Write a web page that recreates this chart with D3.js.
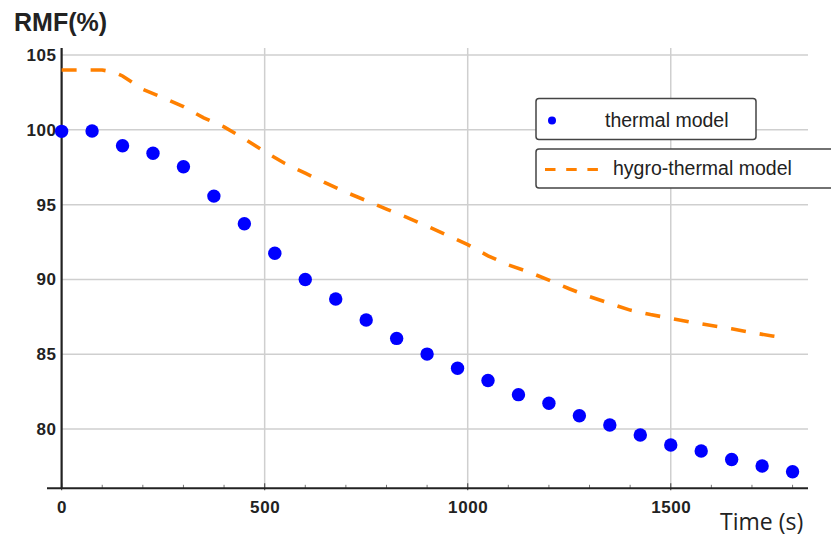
<!DOCTYPE html>
<html><head><meta charset="utf-8">
<script src="https://cdn.jsdelivr.net/npm/d3@7"></script>
<style>body{margin:0;background:#fff}svg{display:block}</style>
</head><body>
<svg id="c" width="831" height="540"></svg>
<script>
// ---- data ----
const thermalTime = [0,75,150,225,300,375,450,525,600,675,750,825,900,975,1050,1125,1200,1275,1350,1425,1500,1575,1650,1725,1800];
const thermalRMF  = [99.9,99.92,98.94,98.43,97.53,95.57,93.72,91.75,90.0,88.69,87.29,86.06,85.01,84.06,83.25,82.3,81.72,80.89,80.27,79.6,78.93,78.53,77.97,77.53,77.15];
const hygroTime = [0,100,130,150,200,250,300,350,400,450,500,550,600,650,700,750,800,850,900,950,1000,1050,1100,1150,1200,1250,1300,1350,1400,1450,1500,1550,1600,1650,1700,1750,1775];
const hygroRMF  = [104.0,104.0,103.85,103.6,102.7,102.15,101.55,100.8,100.2,99.4,98.55,97.75,97.1,96.45,95.83,95.27,94.7,94.15,93.56,92.95,92.33,91.58,90.97,90.5,89.95,89.38,88.85,88.4,87.95,87.65,87.4,87.15,86.92,86.7,86.45,86.22,86.12];
const xTicks = [0,500,1000,1500];
const xMinor = [100,200,300,400,600,700,800,900,1100,1200,1300,1400,1600,1700,1800];
const yTicks = [80,85,90,95,100,105];
const seriesNames = ["thermal model","hygro-thermal model"];

const svg = d3.select("#c");
const x = d3.scaleLinear().domain([-36,1838]).range([47,808]);
const y = d3.scaleLinear().domain([76.04,105.47]).range([488.3,48]);

// grid
svg.append("g").selectAll("line").data(yTicks).join("line")
  .attr("x1",x(0)).attr("x2",808).attr("y1",d=>y(d)).attr("y2",d=>y(d))
  .attr("stroke","#cfcfcf").attr("stroke-width",1.5);
svg.append("g").selectAll("line").data(xTicks.filter(d=>d>0)).join("line")
  .attr("x1",d=>x(d)).attr("x2",d=>x(d)).attr("y1",y(105.47)).attr("y2",y(76.04))
  .attr("stroke","#cfcfcf").attr("stroke-width",1.5);

// minor ticks
svg.append("g").selectAll("line").data(xMinor).join("line")
  .attr("x1",d=>x(d)).attr("x2",d=>x(d)).attr("y1",y(76.04)-3.5).attr("y2",y(76.04))
  .attr("stroke","#777").attr("stroke-width",1);
svg.append("g").selectAll("line").data(xTicks).join("line")
  .attr("x1",d=>x(d)).attr("x2",d=>x(d)).attr("y1",y(76.04)-5).attr("y2",y(76.04)+2)
  .attr("stroke","#555").attr("stroke-width",1.2);

// axis lines
svg.append("line").attr("x1",47).attr("x2",808).attr("y1",y(76.04)).attr("y2",y(76.04))
  .attr("stroke","#222").attr("stroke-width",2);
svg.append("line").attr("x1",x(0)).attr("x2",x(0)).attr("y1",y(105.47)).attr("y2",y(76.04))
  .attr("stroke","#222").attr("stroke-width",2.2);

// axis labels via d3 axes
const gx = svg.append("g").attr("transform",`translate(0,${y(76.04)})`)
  .call(d3.axisBottom(x).tickValues(xTicks).tickFormat(d3.format("d")).tickSize(0).tickPadding(13));
gx.select(".domain").remove();
gx.selectAll("text").attr("font-family","Liberation Sans, Arial, sans-serif").attr("font-weight","bold")
  .attr("font-size","17px").attr("letter-spacing","0.6px").attr("fill","#222");

const gy = svg.append("g").attr("transform",`translate(${x(0)},0)`)
  .call(d3.axisLeft(y).tickValues(yTicks).tickFormat(d3.format("d")).tickSize(0).tickPadding(5));
gy.select(".domain").remove();
gy.selectAll("text").attr("font-family","Liberation Sans, Arial, sans-serif").attr("font-weight","bold")
  .attr("font-size","17px").attr("letter-spacing","0.6px").attr("fill","#222");

// hygro-thermal line
const line = d3.line().x((d,i)=>x(hygroTime[i])).y(d=>y(d));
svg.append("path").datum(hygroRMF).attr("d",line)
  .attr("fill","none").attr("stroke","#ff8000").attr("stroke-width",3.6)
  .attr("stroke-dasharray","15,14");

// thermal points
svg.append("g").selectAll("circle").data(thermalRMF).join("circle")
  .attr("cx",(d,i)=>x(thermalTime[i])).attr("cy",d=>y(d)).attr("r",6.7).attr("fill","#0000ff");

// titles
svg.append("text").attr("x",14).attr("y",31).text("RMF(%)")
  .attr("font-family","Liberation Sans, Arial, sans-serif").attr("font-weight","bold")
  .attr("font-size","25px").attr("fill","#222");
svg.append("text").attr("x",720).attr("y",530).text("Time (s)")
  .attr("font-family","Open Sans, sans-serif").attr("font-size","23px").attr("fill","#222");

// legend
const lg = svg.append("g");
lg.append("rect").attr("x",536).attr("y",98.5).attr("width",220).attr("height",41).attr("rx",3)
  .attr("fill","#fff").attr("stroke","#444").attr("stroke-width",1.5);
lg.append("rect").attr("x",536).attr("y",149).attr("width",300).attr("height",39).attr("rx",3)
  .attr("fill","#fff").attr("stroke","#444").attr("stroke-width",1.5);
lg.append("circle").attr("cx",552).attr("cy",120.5).attr("r",4).attr("fill","#0000ff");
lg.append("line").attr("x1",545).attr("x2",598).attr("y1",169.5).attr("y2",169.5)
  .attr("stroke","#ff8000").attr("stroke-width",3.2).attr("stroke-dasharray","10.5,10.7");
lg.append("text").attr("x",605).attr("y",127).text(seriesNames[0])
  .attr("font-family","Liberation Sans, Arial, sans-serif").attr("font-size","19.5px").attr("fill","#222");
lg.append("text").attr("x",613).attr("y",175).text(seriesNames[1])
  .attr("font-family","Liberation Sans, Arial, sans-serif").attr("font-size","19.5px").attr("fill","#222");
</script>
</body></html>
